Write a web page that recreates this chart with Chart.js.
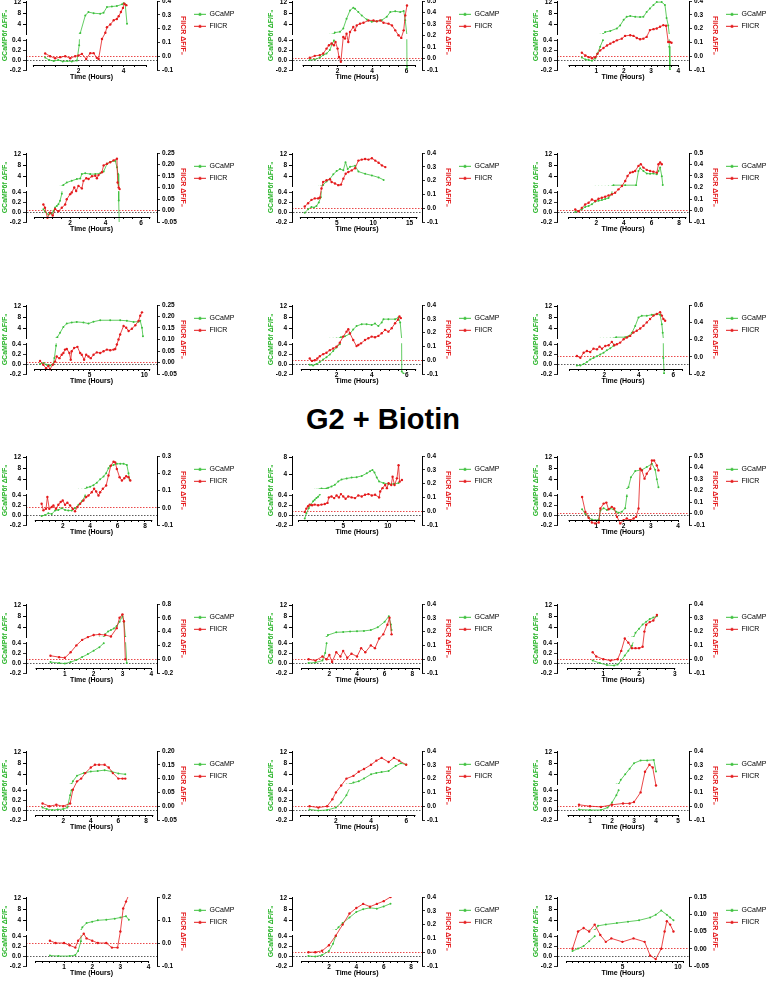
<!DOCTYPE html>
<html>
<head>
<meta charset="utf-8">
<script src="https://cdn.jsdelivr.net/npm/chart.js@4.4.1/dist/chart.umd.min.js"></script>
<style>
  html, body { margin: 0; padding: 0; background: #fff; overflow: hidden; }
  body { width: 766px; height: 993px; position: relative; }
  canvas { position: absolute; }
  #heading { position: absolute; left: 0; width: 766px; top: 403px; line-height: 34px; text-align: center;
             font: bold 29px "Liberation Sans", Arial, sans-serif; color: #000; }
</style>
</head>
<body>
<div id="heading">G2 + Biotin</div>
<script>
// ---- data: [time (h), value] pairs per panel ----
const gcamp01 = [[0.52,0.05],[0.7,0.0],[0.9,-0.02],[1.1,0.0],[1.3,-0.03],[1.5,-0.02],[1.7,-0.03],[1.93,-0.01],[2.03,0.3],[2.08,0.9],[2.3,7.2],[2.44,8.4],[2.67,8.0],[2.96,7.8],[3.11,8.2],[3.26,10.2],[3.48,10.4],[3.7,10.6],[3.93,11.2],[4.0,11.6],[4.07,11.2],[4.15,4.2]];
const flicr01 = [[0.52,0.02],[0.74,0.0],[0.96,-0.015],[1.19,-0.007],[1.41,0.0],[1.63,-0.015],[1.85,0.0],[2.0,0.005],[2.15,0.017],[2.34,-0.02],[2.52,0.022],[2.67,0.022],[2.81,-0.012],[2.89,-0.02],[3.04,0.125],[3.19,0.17],[3.26,0.21],[3.41,0.23],[3.56,0.26],[3.7,0.27],[3.78,0.29],[3.88,0.32],[3.97,0.35],[4.03,0.38],[4.12,0.37]];

const gcamp02 = [[0.39,0.0],[0.68,0.01],[0.97,0.05],[1.17,0.1],[1.36,0.13],[1.55,0.2],[1.69,0.33],[1.79,0.39],[1.84,1.0],[2.14,1.3],[2.33,2.5],[2.52,6.0],[2.72,9.0],[2.91,10.0],[3.01,9.6],[3.2,8.4],[3.4,7.2],[3.69,5.7],[3.98,4.9],[4.27,5.1],[4.56,5.5],[4.85,6.7],[5.05,8.4],[5.34,8.7],[5.63,8.4],[5.83,8.8],[5.92,5.5],[6.02,-0.13],[6.04,-0.23]];
const flicr02 = [[0.39,0.006],[0.68,0.023],[0.97,0.029],[1.17,0.043],[1.36,0.086],[1.5,0.115],[1.65,0.13],[1.79,0.115],[1.88,0.144],[2.0,0.086],[2.08,0.014],[2.19,-0.029],[2.33,0.187],[2.43,0.173],[2.52,0.216],[2.62,0.144],[2.72,0.23],[2.91,0.274],[3.01,0.245],[3.11,0.288],[3.3,0.303],[3.5,0.311],[3.79,0.331],[4.08,0.331],[4.27,0.323],[4.47,0.331],[4.66,0.311],[4.95,0.303],[5.15,0.288],[5.34,0.245],[5.53,0.202],[5.69,0.179],[5.83,0.245],[5.92,0.375],[6.02,0.461]];

const gcamp03 = [[0.47,0.05],[0.6,0.013],[0.72,0.0],[0.84,-0.013],[0.96,0.033],[1.04,0.13],[1.14,0.27],[1.24,0.4],[1.32,1.2],[1.51,1.6],[1.75,2.5],[1.87,3.6],[2.0,5.6],[2.11,6.7],[2.24,7.0],[2.42,6.7],[2.6,6.6],[2.72,6.7],[2.84,8.4],[2.96,9.7],[3.09,11.0],[3.21,12.0],[3.39,12.0],[3.51,11.0],[3.57,6.3],[3.63,3.6],[3.67,0.27],[3.69,-0.2]];
const flicr03 = [[0.47,0.025],[0.6,0.005],[0.72,-0.007],[0.84,-0.015],[0.96,-0.007],[1.04,0.017],[1.14,0.042],[1.26,0.059],[1.39,0.078],[1.51,0.091],[1.63,0.103],[1.75,0.115],[1.93,0.127],[2.05,0.147],[2.24,0.152],[2.36,0.147],[2.48,0.132],[2.6,0.123],[2.72,0.127],[2.84,0.14],[2.96,0.189],[3.09,0.196],[3.21,0.201],[3.33,0.213],[3.45,0.225],[3.55,0.221],[3.63,0.103],[3.69,0.103],[3.75,0.098]];

const gcamp04 = [[0.49,0.055],[0.58,0.007],[0.77,-0.048],[0.96,-0.034],[1.06,0.02],[1.15,0.09],[1.25,0.124],[1.34,0.159],[1.43,0.228],[1.53,0.366],[1.62,0.9],[1.81,1.75],[2.09,2.4],[2.38,3.0],[2.57,3.2],[2.66,4.8],[2.85,5.1],[3.13,4.8],[3.42,4.8],[3.7,5.1],[3.89,5.7],[4.08,8.5],[4.26,9.2],[4.55,9.5],[4.64,7.3],[4.7,4.8],[4.74,0.23],[4.77,-0.25]];
const flicr04 = [[0.49,0.026],[0.58,0.012],[0.72,-0.032],[0.87,-0.01],[1.02,-0.022],[1.15,0.007],[1.34,-0.003],[1.53,0.012],[1.72,0.026],[1.81,0.049],[2.0,0.071],[2.09,0.078],[2.23,0.1],[2.34,0.085],[2.47,0.107],[2.66,0.096],[2.75,0.129],[2.91,0.14],[3.04,0.137],[3.23,0.149],[3.42,0.151],[3.51,0.14],[3.6,0.154],[3.79,0.166],[3.89,0.196],[4.08,0.203],[4.26,0.21],[4.45,0.218],[4.64,0.225],[4.68,0.122],[4.74,0.1],[4.79,0.093]];

const gcamp05 = [[0.6,-0.014],[1.06,0.055],[1.52,0.103],[1.89,0.09],[2.21,0.124],[2.53,0.193],[2.81,0.297],[3.13,0.9],[3.59,2.1],[4.06,3.1],[4.52,4.7],[4.98,5.9],[5.44,6.6],[5.9,6.2],[6.2,9.1],[6.5,6.6],[6.82,7.4],[7.51,7.8],[7.97,5.7],[8.89,4.9],[9.82,4.3],[10.74,3.6],[11.43,2.7]];
const flicr05 = [[0.6,0.012],[1.06,0.036],[1.52,0.06],[1.98,0.071],[2.44,0.071],[2.67,0.076],[2.9,0.143],[3.13,0.19],[3.59,0.202],[4.06,0.21],[4.29,0.19],[4.75,0.179],[5.21,0.167],[5.58,0.171],[5.9,0.214],[6.22,0.25],[6.59,0.262],[7.05,0.274],[7.51,0.29],[7.97,0.345],[8.43,0.352],[8.89,0.357],[9.35,0.352],[9.82,0.362],[10.28,0.345],[10.74,0.329],[11.2,0.31],[11.66,0.298]];

const gcamp06 = [[0.48,0.0],[0.72,0.02],[0.96,0.055],[1.2,0.103],[1.45,0.124],[1.69,0.159],[1.93,0.214],[2.17,0.228],[2.41,0.241],[2.65,0.262],[2.89,0.283],[3.13,0.366],[3.25,0.8],[4.1,0.8],[4.89,0.8],[5.06,5.9],[5.18,6.9],[5.42,5.9],[5.66,5.0],[5.9,4.9],[6.14,5.0],[6.39,4.7],[6.51,5.9],[6.63,7.2],[6.75,4.0],[6.82,0.9]];
const flicr06 = [[0.48,0.009],[0.72,-0.006],[0.96,0.023],[1.2,0.052],[1.45,0.067],[1.69,0.096],[1.93,0.082],[2.17,0.102],[2.41,0.111],[2.65,0.12],[2.89,0.131],[3.13,0.14],[3.37,0.155],[3.61,0.184],[3.86,0.213],[4.1,0.257],[4.27,0.3],[4.46,0.329],[4.65,0.335],[4.82,0.344],[5.06,0.388],[5.23,0.402],[5.42,0.373],[5.66,0.353],[5.9,0.344],[6.14,0.338],[6.39,0.329],[6.51,0.402],[6.63,0.417],[6.75,0.402]];

const gcamp07 = [[0.49,0.0],[0.79,0.02],[1.1,-0.014],[1.4,-0.028],[1.71,0.0],[1.8,0.124],[1.95,0.366],[2.07,0.8],[2.32,2.4],[2.62,4.5],[2.93,5.7],[3.38,6.1],[3.84,6.3],[4.45,6.1],[4.91,5.7],[5.37,6.4],[5.98,6.9],[6.89,6.9],[7.8,6.9],[8.41,6.7],[9.02,6.3],[9.48,6.4],[9.63,6.7],[9.79,4.2],[9.88,1.1]];
const flicr07 = [[0.49,0.007],[0.79,-0.01],[1.04,-0.025],[1.25,-0.015],[1.4,-0.029],[1.65,-0.01],[1.86,0.004],[2.01,0.026],[2.26,0.019],[2.47,0.034],[2.62,0.041],[2.77,0.056],[2.93,0.059],[3.17,0.041],[3.29,0.012],[3.38,0.049],[3.6,0.063],[3.9,0.068],[4.15,0.041],[4.3,0.034],[4.51,0.012],[4.7,0.034],[4.91,0.026],[5.12,0.019],[5.37,0.034],[5.67,0.044],[5.98,0.041],[6.28,0.049],[6.59,0.056],[6.89,0.053],[7.2,0.056],[7.35,0.059],[7.5,0.078],[7.65,0.1],[7.8,0.122],[8.11,0.159],[8.35,0.151],[8.57,0.137],[8.87,0.147],[9.18,0.162],[9.48,0.181],[9.63,0.203],[9.79,0.218]];

const gcamp08 = [[0.48,-0.014],[0.67,-0.028],[0.86,0.0],[1.05,0.041],[1.24,0.09],[1.43,0.138],[1.62,0.193],[1.81,0.262],[2.0,0.331],[2.19,0.4],[2.25,0.8],[2.48,1.1],[2.76,2.0],[2.95,3.6],[3.14,4.8],[3.43,5.5],[3.71,5.5],[4.0,5.2],[4.19,5.7],[4.38,4.8],[4.57,6.1],[4.67,7.3],[4.95,7.3],[5.33,7.3],[5.52,7.9],[5.62,6.1],[5.71,-0.15],[5.81,-0.19]];
const flicr08 = [[0.48,0.012],[0.61,-0.005],[0.76,0.0],[0.91,0.012],[1.05,0.029],[1.24,0.044],[1.43,0.054],[1.62,0.073],[1.81,0.085],[2.0,0.098],[2.19,0.127],[2.38,0.171],[2.57,0.207],[2.67,0.224],[2.76,0.195],[2.95,0.146],[3.14,0.102],[3.24,0.11],[3.39,0.122],[3.62,0.146],[3.81,0.159],[4.0,0.171],[4.19,0.166],[4.38,0.176],[4.57,0.195],[4.76,0.22],[4.95,0.207],[5.14,0.232],[5.33,0.268],[5.49,0.293],[5.58,0.317],[5.66,0.305]];

const gcamp09 = [[0.42,-0.028],[0.62,-0.028],[0.81,0.0],[1.0,0.041],[1.19,0.09],[1.38,0.124],[1.58,0.159],[1.77,0.193],[1.96,0.228],[2.15,0.276],[2.35,0.317],[2.54,0.366],[2.69,0.8],[3.21,0.8],[3.4,1.1],[3.6,2.4],[3.79,4.8],[3.98,7.9],[4.17,8.5],[4.46,8.5],[4.75,8.9],[5.04,9.2],[5.23,8.9],[5.33,5.5],[5.38,2.4],[5.42,0.124],[5.46,-0.186]];
const flicr09 = [[0.42,0.008],[0.62,-0.012],[0.81,0.047],[1.0,0.066],[1.19,0.055],[1.38,0.094],[1.58,0.086],[1.73,0.117],[1.87,0.094],[2.06,0.125],[2.25,0.133],[2.44,0.172],[2.58,0.133],[2.73,0.145],[2.92,0.164],[3.12,0.203],[3.31,0.223],[3.5,0.242],[3.69,0.281],[3.88,0.301],[4.08,0.328],[4.27,0.359],[4.46,0.398],[4.65,0.438],[4.85,0.477],[5.04,0.496],[5.23,0.516],[5.33,0.477],[5.42,0.438],[5.52,0.418]];

const gcamp10 = [[0.46,-0.021],[0.71,0.0],[0.95,0.034],[1.2,0.021],[1.44,0.09],[1.68,0.103],[1.93,0.138],[2.17,0.103],[2.41,0.09],[2.66,0.09],[2.9,0.138],[3.15,0.207],[3.39,0.276],[3.63,0.379],[3.76,1.0],[4.0,1.3],[4.24,1.9],[4.49,2.8],[4.73,4.0],[4.98,5.0],[5.17,6.2],[5.34,8.0],[5.46,8.8],[5.71,9.2],[5.95,9.6],[6.2,9.6],[6.44,9.6],[6.68,9.2],[6.8,6.2],[6.88,3.8]];
const flicr10 = [[0.46,0.023],[0.59,-0.015],[0.78,-0.006],[0.88,0.062],[1.02,-0.006],[1.2,0.004],[1.32,0.013],[1.51,-0.006],[1.68,0.017],[1.85,0.033],[2.0,0.042],[2.17,0.017],[2.34,0.029],[2.54,0.013],[2.73,-0.006],[2.9,-0.021],[3.07,0.004],[3.27,0.023],[3.51,0.042],[3.71,0.062],[3.88,0.071],[4.12,0.09],[4.29,0.11],[4.44,0.094],[4.61,0.071],[4.73,0.09],[4.93,0.11],[5.17,0.129],[5.34,0.187],[5.51,0.244],[5.71,0.267],[5.83,0.263],[5.95,0.225],[6.15,0.177],[6.32,0.158],[6.49,0.171],[6.63,0.183],[6.8,0.177],[6.93,0.158]];

const gcamp11 = [[0.68,-0.069],[0.86,0.034],[1.13,0.138],[1.35,0.207],[1.62,0.276],[1.8,0.31],[1.99,0.345],[2.18,0.366],[2.37,0.414],[2.56,0.6],[3.12,0.6],[3.31,0.8],[3.68,1.1],[4.06,1.5],[4.44,2.3],[4.81,2.75],[5.38,3.0],[5.94,3.2],[6.5,3.3],[7.07,3.6],[7.63,4.2],[8.0,4.7],[8.27,5.0],[8.5,4.4],[8.76,3.2],[9.02,2.3],[9.51,1.9],[10.08,1.7],[10.64,1.7],[11.2,1.9]];
const flicr11 = [[0.68,-0.005],[0.86,0.019],[1.05,0.036],[1.24,0.048],[1.5,0.043],[1.8,0.048],[2.18,0.043],[2.56,0.048],[2.93,0.052],[3.23,0.06],[3.38,0.1],[3.68,0.107],[3.98,0.095],[4.25,0.114],[4.51,0.1],[4.74,0.124],[5.0,0.107],[5.26,0.09],[5.56,0.107],[5.94,0.1],[6.32,0.095],[6.69,0.114],[7.07,0.107],[7.44,0.119],[7.82,0.124],[8.2,0.114],[8.57,0.119],[9.02,0.1],[9.14,0.143],[9.4,0.167],[9.7,0.19],[9.89,0.167],[10.08,0.202],[10.38,0.19],[10.53,0.25],[10.75,0.19],[11.02,0.238],[11.2,0.333],[11.32,0.214],[11.58,0.226]];

const gcamp12 = [[0.48,0.117],[0.6,0.021],[0.72,-0.048],[0.84,-0.09],[0.96,-0.103],[1.09,-0.09],[1.15,0.09],[1.27,0.138],[1.39,0.103],[1.51,0.131],[1.63,0.117],[1.73,0.069],[1.82,0.048],[1.94,0.069],[2.06,0.138],[2.12,0.379],[2.18,1.1],[2.27,4.7],[2.43,7.0],[2.67,7.4],[2.85,8.4],[3.04,9.6],[3.16,7.4],[3.22,4.0],[3.28,1.1]];
const flicr12 = [[0.48,0.144],[0.6,0.014],[0.72,-0.037],[0.84,-0.078],[0.96,-0.086],[1.09,-0.078],[1.15,0.043],[1.27,0.086],[1.37,0.095],[1.45,0.037],[1.57,0.058],[1.66,0.043],[1.76,-0.029],[1.88,-0.086],[2.0,-0.058],[2.12,-0.043],[2.24,-0.058],[2.37,-0.043],[2.46,-0.029],[2.55,0.043],[2.61,0.389],[2.67,0.375],[2.77,0.303],[2.85,0.346],[2.98,0.389],[3.04,0.461],[3.12,0.461],[3.22,0.418],[3.28,0.375]];

const gcamp13 = [[0.5,0.02],[0.8,0.0],[1.0,-0.01],[1.2,0.02],[1.4,0.06],[1.6,0.12],[1.8,0.18],[2.0,0.25],[2.2,0.32],[2.35,0.4],[2.4,1.5],[2.5,2.5],[2.6,3.0],[2.7,3.6],[2.8,4.5],[2.9,6.0],[3.0,8.0],[3.05,6.0],[3.1,0.5],[3.15,0.0]];
const flicr13 = [[0.5,0.05],[0.8,0.03],[1.0,0.02],[1.2,0.1],[1.4,0.2],[1.6,0.28],[1.8,0.32],[2.0,0.35],[2.2,0.36],[2.4,0.35],[2.6,0.33],[2.8,0.45],[2.9,0.6],[3.0,0.65],[3.05,0.55],[3.1,0.0]];

const gcamp14 = [[0.5,0.0],[1.0,0.01],[1.5,0.05],[1.7,0.2],[1.8,0.4],[1.9,1.2],[2.5,2.2],[3.0,2.3],[3.5,2.5],[4.0,2.6],[4.5,2.7],[5.0,3.0],[5.5,4.0],[6.0,6.0],[6.3,8.0],[6.45,5.0],[6.5,3.0]];
const flicr14 = [[0.5,0.0],[1.0,-0.01],[1.5,0.02],[1.8,0.0],[2.0,0.03],[2.2,-0.02],[2.5,0.05],[2.8,0.02],[3.0,0.06],[3.3,0.01],[3.6,0.04],[4.0,0.02],[4.3,0.08],[4.6,0.05],[5.0,0.1],[5.3,0.08],[5.6,0.15],[5.9,0.18],[6.2,0.25],[6.35,0.3],[6.5,0.18]];

const gcamp15 = [[0.7,0.05],[0.9,0.0],[1.1,-0.04],[1.3,-0.05],[1.4,-0.03],[1.5,0.05],[1.6,0.15],[1.7,0.25],[1.8,0.35],[1.85,0.45],[1.9,2.0],[2.0,3.5],[2.1,5.0],[2.2,6.0],[2.3,7.0],[2.4,7.5],[2.5,8.0]];
const flicr15 = [[0.7,0.05],[0.8,0.02],[1.0,0.0],[1.2,-0.01],[1.4,0.0],[1.5,0.06],[1.6,0.15],[1.7,0.12],[1.8,0.08],[1.9,0.08],[2.0,0.08],[2.1,0.09],[2.15,0.2],[2.2,0.25],[2.3,0.27],[2.4,0.28],[2.5,0.32]];

const gcamp16 = [[0.5,0.05],[0.8,0.02],[1.2,0.0],[1.6,0.01],[2.0,0.02],[2.3,0.05],[2.5,0.3],[2.6,0.4],[2.7,1.5],[3.0,3.5],[3.5,4.5],[4.0,5.0],[4.5,5.2],[5.0,5.5],[5.5,5.0],[6.0,4.3],[6.5,4.0]];
const flicr16 = [[0.5,0.01],[1.0,0.0],[1.5,0.005],[2.0,0.0],[2.5,0.01],[2.7,0.06],[3.0,0.09],[3.3,0.1],[3.6,0.12],[4.0,0.14],[4.3,0.15],[4.6,0.15],[5.0,0.15],[5.3,0.14],[5.6,0.12],[6.0,0.1],[6.3,0.1],[6.5,0.1]];

const gcamp17 = [[0.5,0.01],[1.0,-0.01],[1.5,0.0],[2.0,0.05],[2.3,0.15],[2.6,0.3],[2.8,0.45],[3.0,1.0],[3.3,1.5],[3.6,2.5],[4.0,4.0],[4.3,4.5],[4.6,4.8],[5.0,5.2],[5.4,7.0],[5.7,8.0],[6.0,7.5]];
const flicr17 = [[0.5,0.0],[1.0,-0.01],[1.5,0.0],[1.8,0.05],[2.0,0.1],[2.3,0.15],[2.6,0.2],[3.0,0.22],[3.3,0.25],[3.6,0.27],[4.0,0.3],[4.3,0.33],[4.6,0.35],[5.0,0.32],[5.3,0.35],[5.6,0.33],[6.0,0.3]];

const gcamp18 = [[0.5,0.01],[1.0,0.0],[1.5,0.0],[1.8,0.05],[2.0,0.15],[2.2,0.3],[2.3,0.4],[2.4,2.0],[2.6,4.0],[2.8,6.0],[3.0,8.0],[3.3,9.0],[3.6,9.0],[3.9,9.2],[4.0,5.0]];
const flicr18 = [[0.5,0.01],[1.0,0.0],[1.5,-0.005],[2.0,0.01],[2.5,0.02],[2.8,0.02],[3.0,0.03],[3.3,0.1],[3.5,0.25],[3.7,0.3],[3.85,0.28],[4.0,0.15]];

const gcamp19 = [[0.5,0.01],[0.8,0.0],[1.2,0.0],[1.4,0.02],[1.5,0.1],[1.6,0.3],[1.65,1.5],[1.8,3.0],[2.0,3.5],[2.2,4.0],[2.5,4.2],[2.8,4.6],[3.0,5.0],[3.2,5.5],[3.3,4.2]];
const flicr19 = [[0.5,0.01],[0.7,0.0],[1.0,0.0],[1.2,-0.01],[1.4,-0.02],[1.5,0.01],[1.7,0.04],[1.8,0.02],[2.0,0.01],[2.2,0.0],[2.5,0.0],[2.7,-0.02],[2.9,-0.02],[3.0,0.05],[3.1,0.15],[3.2,0.18],[3.3,0.21]];

const gcamp20 = [[0.5,0.0],[1.0,-0.01],[1.5,0.02],[2.0,0.1],[2.3,0.25],[2.5,0.4],[2.7,1.5],[3.0,3.0],[3.5,5.0],[4.0,7.0],[4.5,8.0],[5.0,8.5],[5.5,8.2],[6.0,9.0],[6.5,10.0]];
const flicr20 = [[0.5,0.0],[1.0,0.0],[1.5,0.01],[2.0,0.05],[2.5,0.12],[3.0,0.2],[3.5,0.28],[4.0,0.32],[4.5,0.35],[5.0,0.33],[5.5,0.35],[6.0,0.37],[6.5,0.4]];

const gcamp21 = [[0.5,0.1],[1.0,0.15],[1.5,0.2],[2.0,0.3],[2.5,0.4],[2.8,2.0],[3.5,2.5],[4.5,3.0],[5.5,3.5],[6.5,4.0],[7.5,5.0],[8.0,6.0],[8.5,7.5],[9.0,6.0],[9.3,5.0],[9.6,4.0]];
const flicr21 = [[0.5,0.0],[1.0,0.05],[1.5,0.06],[2.0,0.05],[2.5,0.07],[3.0,0.04],[3.5,0.02],[4.0,0.03],[5.0,0.02],[6.0,0.03],[7.0,0.02],[7.5,-0.02],[8.0,-0.03],[8.5,0.0],[8.8,0.05],[9.0,0.08],[9.3,0.07],[9.6,0.05]];

const gcampSeries = [gcamp01, gcamp02, gcamp03, gcamp04, gcamp05, gcamp06, gcamp07, gcamp08, gcamp09, gcamp10, gcamp11, gcamp12,
                     gcamp13, gcamp14, gcamp15, gcamp16, gcamp17, gcamp18, gcamp19, gcamp20, gcamp21];
const flicrSeries = [flicr01, flicr02, flicr03, flicr04, flicr05, flicr06, flicr07, flicr08, flicr09, flicr10, flicr11, flicr12,
                     flicr13, flicr14, flicr15, flicr16, flicr17, flicr18, flicr19, flicr20, flicr21];

// ---- axes, per panel ----
const timeMin   = [-0.33, -0.64, -0.44, -0.49, -1.15, -0.84, -0.79, -0.53, -0.73, -0.68, -0.75, -0.44, -0.35, -0.7, -0.3, -0.7, -0.5, -0.5, -0.35, -0.7, -0.9];
const timeMax   = [5.48, 6.89, 4.39, 6.9, 16.7, 8.72, 11.16, 6.86, 6.9, 8.88, 13.83, 4.4, 4.2, 8.7, 3.4, 8.8, 6.9, 5.5, 4.3, 8.8, 11.0];
const timeEnd   = [5, 6.5, 4, 6.5, 16, 8.5, 10.5, 6.5, 6.5, 8.5, 13, 4, 4, 8.5, 3, 8.5, 6.5, 5, 4, 8.5, 10.5];
const timeMinor = [0.5, 0.5, 0.25, 0.5, 1, 0.5, 0.5, 0.5, 0.5, 0.5, 1, 0.25, 0.25, 0.5, 0.25, 0.5, 0.5, 0.25, 0.25, 0.5, 0.5];
const timeMajor = [2, 2, 1, 2, 5, 2, 5, 2, 2, 2, 5, 1, 1, 2, 1, 2, 2, 1, 1, 2, 5];
const flicrMin  = [-0.1, -0.1, -0.1, -0.05, -0.1, -0.1, -0.05, -0.1, -0.2, -0.1, -0.1, -0.1, -0.2, -0.1, -0.1, -0.05, -0.1, -0.1, -0.1, -0.1, -0.05];
const flicrMax  = [0.4, 0.5, 0.4, 0.25, 0.4, 0.5, 0.25, 0.4, 0.6, 0.3, 0.4, 0.5, 0.8, 0.4, 0.4, 0.2, 0.4, 0.4, 0.2, 0.4, 0.15];
const flicrStep = [0.1, 0.1, 0.1, 0.05, 0.1, 0.1, 0.05, 0.1, 0.2, 0.1, 0.1, 0.1, 0.2, 0.1, 0.1, 0.05, 0.1, 0.1, 0.1, 0.1, 0.05];
const gcampTop  = [12.4, 12.4, 12.4, 12.4, 12.4, 12.4, 12.4, 12.4, 12.4, 12.4, 8.3, 12.4, 12.4, 12.4, 12.4, 12.4, 12.4, 12.4, 12.4, 12.4, 12.4];
const lowerTicks = [-0.2, 0, 0.2, 0.4];
const X_CROSS = -0.1;   // GCaMP value where the time axis crosses

// ---- look ----
const GREEN = '#3cc03c';
const GREEN_TEXT = '#29b529';
const RED = '#e41a1c';
const INK = '#000';
const FAMILY = '"Liberation Sans", Arial, Helvetica, sans-serif';
const TICK_FONT = { family: FAMILY, size: 6.5, weight: 'bold' };
const TITLE_FONT = { family: FAMILY, size: 7, weight: 'bold' };

const colLeft = [0, 266, 531];
const colPlotW = [131, 130, 132];
const rowTick12 = [1.7, 154, 305.7, 457.3, 605, 752, 898];
const PAD_TOP = 8, PLOT_H = 69, XAXIS_H = 18, LEFT_STACK_W = 18, LEFT_TITLE_W = 8, RIGHT_W = 32, LEGEND_W = 50;

Chart.defaults.font.family = FAMILY;

function legendIcon(color) {
  const c = document.createElement('canvas');
  c.width = 12; c.height = 5;
  const g = c.getContext('2d');
  g.strokeStyle = color; g.lineWidth = 1;
  g.beginPath(); g.moveTo(0, 2.5); g.lineTo(12, 2.5); g.stroke();
  g.fillStyle = color;
  g.beginPath(); g.arc(6, 2.5, 1.6, 0, Math.PI * 2); g.fill();
  return c;
}
const iconGreen = legendIcon(GREEN);
const iconRed = legendIcon(RED);

function stepTicks(lo, hi, step) {
  const out = [];
  const n = Math.round((hi - lo) / step);
  for (let k = 0; k <= n; k++) out.push({ value: Math.round((lo + k * step) * 1e6) / 1e6 });
  return out;
}

// keep each half of the broken GCaMP axis inside its own segment
const segmentClip = {
  id: 'segmentClip',
  beforeDatasetDraw(chart, args) {
    const ds = chart.data.datasets[args.index];
    if (!ds.clipToAxis) return;
    const sc = chart.scales[ds.yAxisID];
    const ctx = chart.ctx;
    ctx.save();
    ctx.beginPath();
    ctx.rect(chart.chartArea.left, sc.top - 1, chart.chartArea.width, sc.bottom - sc.top + 2);
    ctx.clip();
  },
  afterDatasetDraw(chart, args) {
    if (chart.data.datasets[args.index].clipToAxis) chart.ctx.restore();
  }
};

// fixed legend width so every plot area comes out the same size
const legendWidth = {
  id: 'legendWidth',
  beforeLayout(chart) {
    const lg = chart.legend;
    if (!lg || lg.fixedWidth) return;
    const fit = lg.fit;
    lg.fit = function () { fit.call(this); this.width = LEGEND_W; };
    lg.fixedWidth = true;
  }
};

// Prism-style time axis line: only from 0 to the last tick, not corner to corner
const timeAxisLine = {
  id: 'timeAxisLine',
  afterDraw(chart, args, opts) {
    const x = chart.scales.x, yl = chart.scales.yL;
    const ctx = chart.ctx;
    const y = Math.round(yl.getPixelForValue(X_CROSS)) + 0.5;
    ctx.save();
    ctx.strokeStyle = INK;
    ctx.lineWidth = 1;
    ctx.beginPath();
    ctx.moveTo(x.getPixelForValue(0) - 0.5, y);
    ctx.lineTo(x.getPixelForValue(opts.end) + 0.5, y);
    ctx.stroke();
    ctx.restore();
  }
};

function fixWidth(w) { return (s) => { s.width = w; }; }

function drawPanel(i) {
  const row = Math.floor(i / 3), col = i % 3;
  const canvas = document.createElement('canvas');
  canvas.width = LEFT_TITLE_W + LEFT_STACK_W + colPlotW[col] + RIGHT_W + LEGEND_W;
  canvas.height = PAD_TOP + PLOT_H + XAXIS_H;
  canvas.style.left = colLeft[col] + 'px';
  canvas.style.top = Math.round(rowTick12[row] - PAD_TOP - 1.1) + 'px';
  document.body.appendChild(canvas);

  const toXY = (arr) => arr.map(([x, y]) => ({ x, y }));
  const g = toXY(gcampSeries[i]);
  const f = toXY(flicrSeries[i]);
  const dec = flicrStep[i] < 0.1 ? 2 : 1;
  const upperTicks = [4, 8, 12].filter(v => v <= gcampTop[i]);

  new Chart(canvas, {
    type: 'line',
    data: {
      datasets: [
        { label: 'GCaMP', data: g, yAxisID: 'yU', clipToAxis: true, borderColor: GREEN, backgroundColor: GREEN,
          borderWidth: 0.8, pointRadius: 1, pointBorderWidth: 0, order: 2 },
        { label: '', data: g, yAxisID: 'yL', clipToAxis: true, borderColor: GREEN, backgroundColor: GREEN,
          borderWidth: 0.8, pointRadius: 1, pointBorderWidth: 0, order: 2 },
        { label: 'FlICR', data: f, yAxisID: 'yR', borderColor: RED, backgroundColor: RED,
          borderWidth: 0.8, pointRadius: 1.2, pointBorderWidth: 0, order: 1 }
      ]
    },
    options: {
      responsive: false,
      animation: false,
      events: [],
      layout: { padding: { top: PAD_TOP, left: 0, right: 0, bottom: XAXIS_H } },
      plugins: {
        tooltip: { enabled: false },
        timeAxisLine: { end: timeEnd[i] },
        legend: {
          position: 'right',
          align: 'start',
          title: { display: true, text: ' ', padding: 0, font: { size: 4 } },
          labels: {
            usePointStyle: true,
            pointStyleWidth: 12,
            padding: 5,
            color: INK,
            font: { family: FAMILY, size: 7 },
            generateLabels: () => [
              { text: 'GCaMP', pointStyle: iconGreen, fillStyle: GREEN, strokeStyle: GREEN, lineWidth: 0, hidden: false, datasetIndex: 0, fontColor: INK },
              { text: 'FlICR', pointStyle: iconRed, fillStyle: RED, strokeStyle: RED, lineWidth: 0, hidden: false, datasetIndex: 2, fontColor: INK }
            ]
          }
        }
      },
      scales: {
        x: {
          type: 'linear',
          position: { yL: X_CROSS },
          min: timeMin[i],
          max: timeMax[i],
          afterBuildTicks: (s) => { s.ticks = stepTicks(0, timeEnd[i], timeMinor[i]); },
          afterFit: (s) => { s.height = XAXIS_H; },
          ticks: {
            autoSkip: false, maxRotation: 0, minRotation: 0, padding: 0, color: INK, font: TICK_FONT,
            callback: (v) => {
              const q = v / timeMajor[i];
              return (v > 0 && Math.abs(q - Math.round(q)) < 1e-6) ? String(v) : '';
            }
          },
          grid: { drawOnChartArea: false, tickLength: 2, tickColor: INK, tickWidth: 1 },
          border: { display: false },
          title: { display: true, text: 'Time (Hours)', color: INK, font: TITLE_FONT, padding: { top: 0, bottom: 1.8 } }
        },
        yT: {
          type: 'linear', position: 'left', weight: 10, min: 0, max: 1,
          afterFit: fixWidth(LEFT_TITLE_W),
          ticks: { display: false },
          grid: { display: false },
          border: { display: false },
          title: { display: true, text: 'GCaMP6f ΔF/F₀', color: GREEN_TEXT, font: TITLE_FONT, padding: { top: 1, bottom: 0 } }
        },
        yU: {
          type: 'linear', position: 'left', stack: 'gc', stackWeight: 33.2, weight: 3,
          min: 0.5, max: gcampTop[i],
          afterBuildTicks: (s) => { s.ticks = upperTicks.map(v => ({ value: v })); },
          afterFit: fixWidth(LEFT_STACK_W),
          ticks: { autoSkip: false, padding: 2, color: INK, font: TICK_FONT, callback: (v) => String(v) },
          grid: { drawOnChartArea: false, tickLength: 3, tickColor: INK },
          border: { color: INK, width: 1 }
        },
        yG: {
          type: 'linear', position: 'left', stack: 'gc', stackWeight: 5.2, weight: 2, min: 0, max: 1,
          afterFit: fixWidth(LEFT_STACK_W),
          ticks: { display: false },
          grid: { display: false },
          border: { display: false }
        },
        yL: {
          type: 'linear', position: 'left', stack: 'gc', stackWeight: 31, weight: 1,
          min: -0.2, max: 0.42,
          afterBuildTicks: (s) => { s.ticks = lowerTicks.map(v => ({ value: v })); },
          afterFit: fixWidth(LEFT_STACK_W),
          ticks: { autoSkip: false, padding: 2, color: INK, font: TICK_FONT, callback: (v) => v.toFixed(1) },
          grid: {
            drawOnChartArea: true, tickLength: 3, tickColor: INK, lineWidth: 0.8,
            color: (c) => (c.tick && Math.abs(c.tick.value) < 1e-9) ? '#333' : 'rgba(0,0,0,0)'
          },
          border: { color: INK, width: 1, dash: [1.5, 1.5] }
        },
        yR: {
          type: 'linear', position: 'right',
          min: flicrMin[i], max: flicrMax[i],
          afterBuildTicks: (s) => { s.ticks = stepTicks(flicrMin[i], flicrMax[i], flicrStep[i]); },
          afterFit: fixWidth(RIGHT_W),
          ticks: { autoSkip: false, padding: 2, color: INK, font: TICK_FONT, callback: (v) => v.toFixed(dec) },
          grid: {
            drawOnChartArea: true, tickLength: 3, tickColor: INK, lineWidth: 0.8,
            color: (c) => (c.tick && Math.abs(c.tick.value) < 1e-9) ? RED : 'rgba(0,0,0,0)'
          },
          border: { color: INK, width: 1, dash: [1.5, 1.5] },
          title: { display: true, text: 'FlICR ΔF/F₀', color: RED, font: TITLE_FONT, padding: { top: 1.8, bottom: 0 } }
        }
      }
    },
    plugins: [segmentClip, legendWidth, timeAxisLine]
  });
}

for (let i = 0; i < 21; i++) drawPanel(i);
</script>
</body>
</html>
